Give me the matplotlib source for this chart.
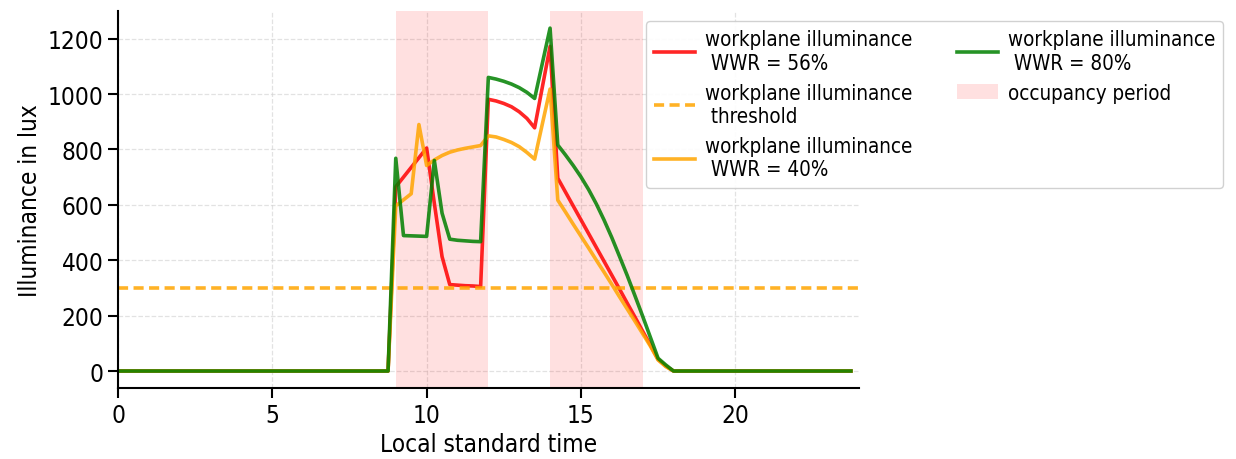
import numpy as np
import matplotlib
matplotlib.use("Agg")
import matplotlib.pyplot as plt

# Time axis: 15-minute steps over one day (hours)
hours = np.arange(0, 24, 0.25)

# Night-time hours with no daylight
night_before = [0.0] * 35   # 0:00 .. 8:30
night_after = [0.0] * 23    # 18:15 .. 23:45

# Daylight period 8:45 .. 18:00 (lux)
wwr56_day = [0, 665, 700, 735, 770, 805, 605, 413, 312, 310, 308, 307, 305,
             981, 975, 966, 954, 936, 912, 878, 1025, 1172,
             696, 646, 596, 546, 496, 446, 396, 346, 296, 245, 195, 144, 94,
             42, 18, 0]
wwr40_day = [0, 596, 618, 640, 890, 742, 762, 778, 790, 798, 804, 809, 814,
             849, 845, 836, 825, 810, 789, 765, 892, 1018,
             617, 574, 530, 487, 444, 400, 357, 313, 268, 224, 180, 135, 90,
             40, 16, 0]
wwr80_day = [0, 768, 489, 488, 487, 486, 760, 570, 476, 472, 470, 468, 467,
             1060, 1054, 1046, 1036, 1023, 1006, 984, 1111, 1238,
             816, 780, 742, 701, 655, 603, 545, 482, 414, 345, 272, 198, 122,
             46, 22, 0]

wwr56 = night_before + wwr56_day + night_after
wwr40 = night_before + wwr40_day + night_after
wwr80 = night_before + wwr80_day + night_after

threshold = 300
occupancy = [(9, 12), (14, 17)]

plt.rcParams["font.family"] = ["DejaVu Sans"]
plt.rcParams["font.stretch"] = "condensed"

fig = plt.figure(figsize=(12.36, 4.6), dpi=100)
ax = fig.add_axes([0.0955, 0.154, 0.5992, 0.820])

lw = 2.6
ax.plot(hours, wwr56, color="red", alpha=0.85, lw=lw,
        label="workplane illuminance\n WWR = 56%")
ax.axhline(threshold, color="orange", alpha=0.85, lw=lw, dashes=(2.8, 1.5),
           label="workplane illuminance\n threshold")
ax.plot(hours, wwr40, color="orange", alpha=0.85, lw=lw,
        label="workplane illuminance\n WWR = 40%")
ax.plot(hours, wwr80, color="green", alpha=0.85, lw=lw,
        label="workplane illuminance\n WWR = 80%")
for i, (start, end) in enumerate(occupancy):
    ax.axvspan(start, end, color="red", alpha=0.12, lw=0,
               label="occupancy period" if i == 0 else None)

ax.set_xlim(0, 24)
ax.grid(True, linestyle="--", color="#d0d0d0", alpha=0.6, lw=0.9)
ax.set_axisbelow(True)
for side in ("top", "right"):
    ax.spines[side].set_visible(False)
for side in ("left", "bottom"):
    ax.spines[side].set_linewidth(1.5)

ax.tick_params(labelsize=17.5, length=7, width=1.5)
ax.set_xlabel("Local standard time", fontsize=17.5)
ax.set_ylabel("Illuminance in lux", fontsize=17.5)

ax.legend(ncol=2, loc="upper left", bbox_to_anchor=(0.5227, 0.952),
          bbox_transform=fig.transFigure, borderaxespad=0, fontsize=14.8,
          handletextpad=0.45, columnspacing=2.2,
          frameon=True, framealpha=0.9, edgecolor="#cccccc")

fig.savefig("out.png", dpi=100)
